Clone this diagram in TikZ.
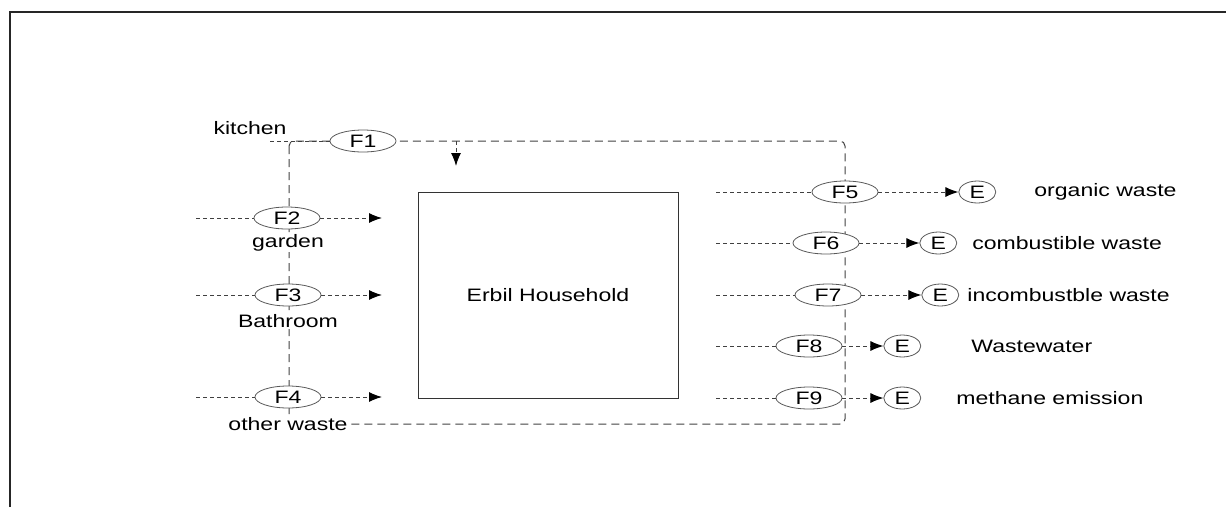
\documentclass[tikz,border=0pt]{standalone}
\usepackage{fontspec}
\setmainfont[FakeStretch=1.28]{Liberation Sans}
\usetikzlibrary{positioning, arrows.meta, shapes.geometric}

\begin{document}
\begin{tikzpicture}[
    x=1pt, y=-1pt,
    font=\fontsize{18}{20}\selectfont,
    >={Latex[length=13pt, width=10pt, black]},
    node distance=40pt,
    flow/.style={draw=black!75, line width=1pt, dash pattern=on 4pt off 3pt},
    bound/.style={draw=black!75, line width=1pt, dash pattern=on 8pt off 5pt,
                  rounded corners=5pt},
    flux/.style={ellipse, draw=black!65, fill=white, line width=0.8pt,
                 minimum width=66pt, minimum height=22pt, inner sep=0pt},
    sink/.style={ellipse, draw=black!65, fill=white, line width=0.8pt,
                 minimum width=37pt, minimum height=22pt, inner sep=0pt},
    lbl/.style={fill=white, inner sep=1pt},
    tag/.style={inner sep=1pt},
]
\useasboundingbox (0,0) rectangle (1226,507);

% ---- Frame -----------------------------------------------------------------
\draw[line width=1.5pt, black!85] (10,507) -- (10,12) -- (1226,12);

% ---- System boundary -------------------------------------------------------
\coordinate (bTL) at (289,141);
\coordinate (bBR) at (845,424);
\draw[bound] (bTL) rectangle (bBR);

% ---- Household -------------------------------------------------------------
\node[draw=black!80, line width=1pt, minimum width=260pt, minimum height=206pt]
    (house) at (548,295) {Erbil Household};

% ---- Input flows -----------------------------------------------------------
\node[flux] (F1) at (363,141) {F1};
\node[flux] (F2) at (287,218) {F2};
\node[flux] (F3) at (288,295) {F3};
\node[flux] (F4) at (288,397) {F4};

\node[tag] (kitchen) at (250,128) {kitchen};
\node[lbl] (garden)  at (288,243) {garden};
\node[lbl] (bath)    at (288,321) {Bathroom};
\node[lbl] (other)   at (288,424) {other waste};

\coordinate (in1) at (270,141);
\coordinate (in2) at (196,218);
\coordinate (in3) at (196,295);
\coordinate (in4) at (196,397);
\coordinate (to2) at (382,218);
\coordinate (to3) at (382,295);
\coordinate (to4) at (382,397);
\coordinate (drop) at (456,141);

\draw[flow] (in1) -- (F1);
\draw[flow, ->] (drop) -- ++(0,25);
\foreach \i in {2,3,4} {
    \draw[flow] (in\i) -- (F\i);
    \draw[flow, ->] (F\i) -- (to\i);
}

% ---- Output flows ----------------------------------------------------------
\node[flux] (F5) at (845,192) {F5};
\node[flux] (F6) at (826,243) {F6};
\node[flux] (F7) at (828,295) {F7};
\node[flux] (F8) at (809,346) {F8};
\node[flux] (F9) at (809,398) {F9};

\node[sink, right=80pt of F5] (E5) {E};
\node[sink, right=60pt of F6] (E6) {E};
\node[sink, right=60pt of F7] (E7) {E};
\node[sink, right=41pt of F8] (E8) {E};
\node[sink, right=41pt of F9] (E9) {E};

\node[tag, right=37pt of E5] {organic waste};
\node[tag, right=14pt of E6] {combustible waste};
\node[tag, right=7pt of E7]  {incombustble waste};
\node[tag, right=49pt of E8] {Wastewater};
\node[tag, right=34pt of E9] {methane emission};

\foreach \i in {5,...,9} {
    \coordinate (out\i) at (716,0 |- F\i);
    \draw[flow] (out\i) -- (F\i);
    \draw[flow, ->] (F\i) -- (E\i);
}

\end{tikzpicture}
\end{document}
